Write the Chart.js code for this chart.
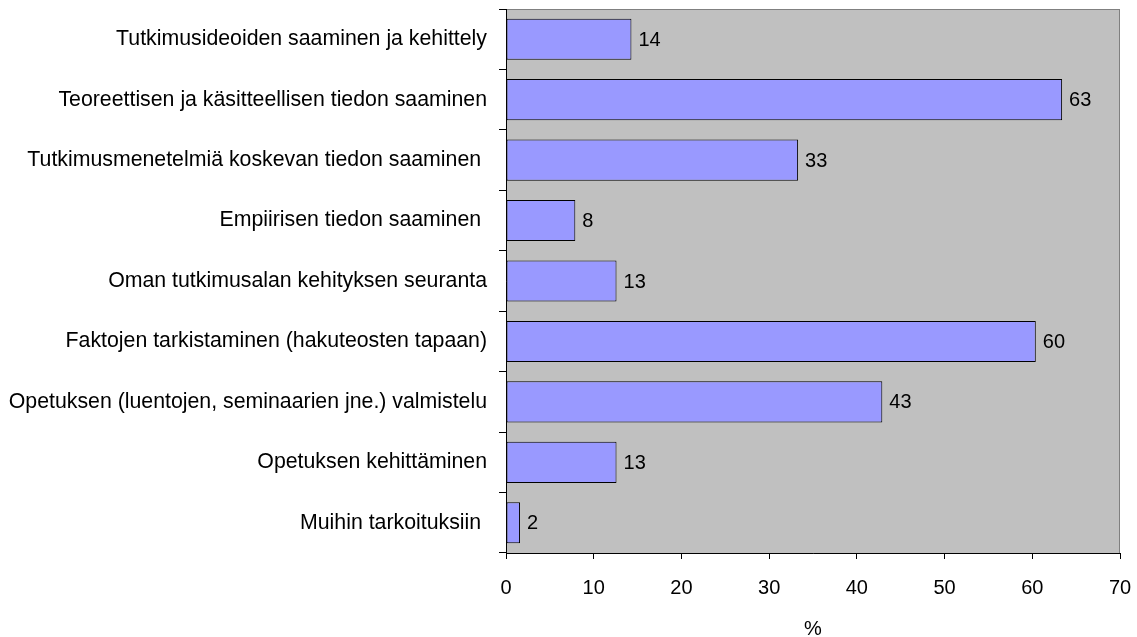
<!DOCTYPE html>
<html>
<head>
<meta charset="utf-8">
<script src="https://cdn.jsdelivr.net/npm/chart.js@4/dist/chart.umd.min.js"></script>
<style>
    html, body { margin: 0; padding: 0; background: #fff; }
    #wrap { width: 1137px; height: 637px; position: relative; }
</style>
</head>
<body>
<div id="wrap"><canvas id="chart"></canvas></div>
<script>
const categories = [
    "Tutkimusideoiden saaminen ja kehittely",
    "Teoreettisen ja käsitteellisen tiedon saaminen",
    "Tutkimusmenetelmiä koskevan tiedon saaminen ",
    "Empiirisen tiedon saaminen ",
    "Oman tutkimusalan kehityksen seuranta",
    "Faktojen tarkistaminen (hakuteosten tapaan)",
    "Opetuksen (luentojen, seminaarien jne.) valmistelu",
    "Opetuksen kehittäminen",
    "Muihin tarkoituksiin "
];
const percentages = [14.3, 63.4, 33.3, 7.9, 12.6, 60.4, 42.9, 12.6, 1.6];
const xTicks = [0, 10, 20, 30, 40, 50, 60, 70];

const FONT = "'Liberation Sans', Arial, sans-serif";

// grey plot area with a thin frame
const plotBackground = {
    id: "plotBackground",
    beforeDraw(chart) {
        const { ctx, chartArea: a } = chart;
        ctx.save();
        ctx.fillStyle = "#c0c0c0";
        ctx.fillRect(a.left, a.top, a.right - a.left, a.bottom - a.top);
        ctx.strokeStyle = "#808080";
        ctx.lineWidth = 1;
        ctx.strokeRect(a.left + 0.5, a.top + 0.5, a.right - a.left - 1, a.bottom - a.top);
        ctx.restore();
    }
};

// value labels at the end of each bar
const valueLabels = {
    id: "valueLabels",
    afterDatasetsDraw(chart) {
        const { ctx } = chart;
        const meta = chart.getDatasetMeta(0);
        ctx.save();
        ctx.font = "20px " + FONT;
        ctx.fillStyle = "#000";
        ctx.textAlign = "left";
        ctx.textBaseline = "middle";
        meta.data.forEach((bar, i) => {
            ctx.fillText(Math.round(percentages[i]), bar.x + 7, bar.y + 1);
        });
        ctx.restore();
    }
};

new Chart(document.getElementById("chart"), {
    type: "bar",
    data: {
        labels: categories,
        datasets: [{
            data: percentages,
            backgroundColor: "#9999ff",
            borderColor: "#000000",
            borderWidth: 1,
            borderSkipped: false,
            barPercentage: 0.68,
            categoryPercentage: 1
        }]
    },
    options: {
        indexAxis: "y",
        responsive: true,
        maintainAspectRatio: false,
        animation: false,
        layout: { padding: { left: 0, right: 17, top: 9, bottom: 0 } },
        plugins: {
            legend: { display: false },
            tooltip: { enabled: false }
        },
        scales: {
            x: {
                min: 0,
                max: 70,
                afterBuildTicks(scale) {
                    scale.ticks = xTicks.map(v => ({ value: v }));
                },
                afterFit(scale) {
                    scale.height = 84;
                    scale.paddingLeft = 0;
                    scale.paddingRight = 0;
                },
                grid: {
                    drawOnChartArea: false,
                    drawTicks: true,
                    tickLength: 6,
                    color: "#000"
                },
                border: { color: "#000" },
                ticks: {
                    color: "#000",
                    padding: 17,
                    font: { family: FONT, size: 20 }
                },
                title: {
                    display: true,
                    text: "%",
                    color: "#000",
                    padding: { top: 0, bottom: -4 },
                    font: { family: FONT, size: 20 }
                }
            },
            y: {
                afterFit(scale) {
                    scale.width = 506;
                    scale.paddingTop = 0;
                    scale.paddingBottom = 0;
                },
                grid: {
                    offset: true,
                    drawOnChartArea: false,
                    drawTicks: true,
                    tickLength: 7,
                    color: "#000"
                },
                border: { color: "#000" },
                ticks: {
                    color: "#000",
                    padding: 12,
                    autoSkip: false,
                    font: { family: FONT, size: 21.3 }
                }
            }
        }
    },
    plugins: [plotBackground, valueLabels]
});
</script>
</body>
</html>
